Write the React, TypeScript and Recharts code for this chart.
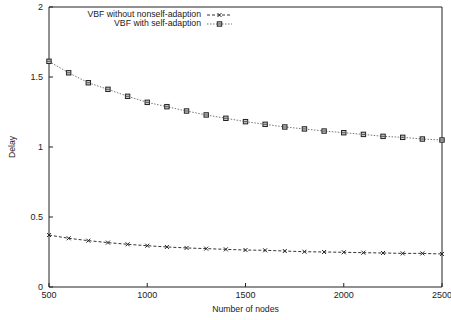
import { LineChart, Line, XAxis, YAxis, Legend } from 'recharts';

const nodes = [500, 600, 700, 800, 900, 1000, 1100, 1200, 1300, 1400, 1500, 1600, 1700, 1800, 1900, 2000, 2100, 2200, 2300, 2400, 2500];
const withoutNonself = [0.371, 0.348, 0.331, 0.317, 0.305, 0.295, 0.286, 0.279, 0.274, 0.269, 0.264, 0.262, 0.257, 0.252, 0.25, 0.248, 0.245, 0.243, 0.24, 0.24, 0.236];
const withSelf = [1.612, 1.53, 1.459, 1.412, 1.362, 1.319, 1.288, 1.257, 1.229, 1.205, 1.181, 1.162, 1.143, 1.129, 1.114, 1.102, 1.09, 1.076, 1.069, 1.057, 1.05];
const xTicks = [500, 1000, 1500, 2000, 2500];
const yTicks = [0, 0.5, 1, 1.5, 2];
const yTickLabels = ['0', '0.5', '1', '1.5', '2'];

const data = nodes.map((n, i) => ({ n, without: withoutNonself[i], self: withSelf[i] }));

const FONT = '"Liberation Sans", Arial, sans-serif';
const INK = '#222';

function CrossMark({ cx, cy }: { cx: number; cy: number }) {
  return (
    <g stroke={INK} strokeWidth={1}>
      <line x1={cx - 2} y1={cy - 2} x2={cx + 2} y2={cy + 2} />
      <line x1={cx - 2} y1={cy + 2} x2={cx + 2} y2={cy - 2} />
    </g>
  );
}

function SquareMark({ cx, cy }: { cx: number; cy: number }) {
  return (
    <g stroke={INK} strokeWidth={1}>
      <rect x={cx - 2.2} y={cy - 2.2} width={4.4} height={4.4} fill="#ccc" />
      <line x1={cx - 2.2} y1={cy} x2={cx + 2.2} y2={cy} stroke="#555" />
    </g>
  );
}

const noTick = () => <g />;

export default function App() {
  return (
    <div style={{ position: 'absolute', left: 0, top: 0, width: 451, height: 320, background: '#fff', overflow: 'hidden' }}>
      <LineChart width={451} height={320} data={data} margin={{ top: 0, right: 0, left: 0, bottom: 0 }}>
        <XAxis
          dataKey="n"
          type="number"
          domain={[500, 2500]}
          ticks={xTicks}
          height={33}
          tickSize={-4}
          tickMargin={9}
          stroke={INK}
          tick={{ fill: INK, fontSize: 9, fontFamily: FONT }}
          label={({ viewBox }: any) => (
            <text
              x={viewBox.x + viewBox.width / 2}
              y={312}
              textAnchor="middle"
              fill={INK}
              fontSize={8.7}
              fontFamily={FONT}
            >
              Number of nodes
            </text>
          )}
        />
        <XAxis
          xAxisId="top"
          orientation="top"
          type="number"
          domain={[500, 2500]}
          ticks={xTicks}
          height={7}
          tickSize={-4}
          stroke={INK}
          tick={noTick}
        />
        <YAxis
          type="number"
          domain={[0, 2]}
          ticks={yTicks}
          width={49}
          tickSize={-4}
          tickMargin={10}
          stroke={INK}
          tickFormatter={(v: number) => yTickLabels[yTicks.indexOf(v)] ?? String(v)}
          tick={{ fill: INK, fontSize: 9, fontFamily: FONT }}
          label={({ viewBox }: any) => {
            const cy = viewBox.y + viewBox.height / 2;
            return (
              <text
                x={13}
                y={cy}
                transform={`rotate(-90 13 ${cy})`}
                textAnchor="middle"
                dominantBaseline="middle"
                fill={INK}
                fontSize={8.7}
                fontFamily={FONT}
              >
                Delay
              </text>
            );
          }}
        />
        <YAxis
          yAxisId="right"
          orientation="right"
          type="number"
          domain={[0, 2]}
          ticks={yTicks}
          width={9}
          tickSize={-4}
          stroke={INK}
          tick={noTick}
        />
        <Legend
          layout="vertical"
          align="center"
          verticalAlign="middle"
          wrapperStyle={{ left: 0, top: 8, width: 240, height: 22 }}
          content={() => (
            <svg width={240} height={22} style={{ display: 'block' }}>
              <text x={201} y={7} textAnchor="end" dominantBaseline="middle" fill={INK} fontSize={8.7} fontFamily={FONT}>
                VBF without nonself-adaption
              </text>
              <line x1={207} y1={7} x2={232} y2={7} stroke="#333" strokeDasharray="3 2" />
              <CrossMark cx={219.5} cy={7} />
              <text x={201} y={16} textAnchor="end" dominantBaseline="middle" fill={INK} fontSize={8.7} fontFamily={FONT}>
                VBF with self-adaption
              </text>
              <line x1={207} y1={16} x2={232} y2={16} stroke="#777" strokeDasharray="1.5 1.5" />
              <SquareMark cx={219.5} cy={16} />
            </svg>
          )}
        />
        <Line
          dataKey="without"
          name="VBF without nonself-adaption"
          stroke="#333"
          strokeWidth={1}
          strokeDasharray="3 2"
          isAnimationActive={false}
          dot={(p: any) => <CrossMark key={`x${p.index}`} cx={p.cx} cy={p.cy} />}
          activeDot={false}
        />
        <Line
          dataKey="self"
          name="VBF with self-adaption"
          stroke="#777"
          strokeWidth={1}
          strokeDasharray="1.5 1.5"
          isAnimationActive={false}
          dot={(p: any) => <SquareMark key={`s${p.index}`} cx={p.cx} cy={p.cy} />}
          activeDot={false}
        />
      </LineChart>
    </div>
  );
}
